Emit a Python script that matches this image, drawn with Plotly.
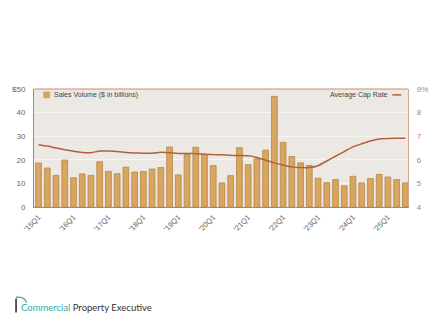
import plotly.graph_objects as go

quarters = [f"'{y}Q{q}" for y in range(15, 26) for q in range(1, 5)][:43]
sales_volume = [18.6, 16.5, 13.4, 19.9, 12.4, 14.0, 13.4, 19.2, 15.1, 14.1,
                16.9, 14.8, 15.0, 16.1, 16.7, 25.4, 13.6, 22.2, 25.3, 22.3,
                17.5, 10.2, 13.3, 25.1, 17.9, 20.4, 24.1, 46.9, 27.4, 21.4,
                18.7, 17.6, 12.2, 10.3, 11.6, 9.0, 13.0, 10.2, 12.0, 13.8,
                12.7, 11.6, 10.2]
cap_rate = [6.64, 6.58, 6.50, 6.43, 6.36, 6.31, 6.30, 6.37, 6.37, 6.35,
            6.31, 6.29, 6.28, 6.28, 6.32, 6.30, 6.27, 6.27, 6.26, 6.24,
            6.22, 6.21, 6.19, 6.18, 6.17, 6.10, 5.98, 5.87, 5.78, 5.70,
            5.67, 5.67, 5.75, 5.95, 6.15, 6.35, 6.55, 6.68, 6.80, 6.88,
            6.90, 6.91, 6.91]
tick_labels = ["'15Q1", "'16Q1", "'17Q1", "'18Q1", "'19Q1", "'20Q1",
               "'21Q1", "'22Q1", "'23Q1", "'24Q1", "'25Q1"]

x = list(range(len(sales_volume)))
tick_pos = [quarters.index(t) for t in tick_labels]

FONT = "Liberation Sans, Arial, Helvetica, sans-serif"
BAR = "#D8A663"
LINE = "#B0603C"

fig = go.Figure()
fig.add_trace(go.Bar(
    x=x, y=sales_volume, name="Sales Volume ($ in billions)",
    marker=dict(color=BAR, line=dict(color="#B98540", width=0.8)),
    width=0.66, yaxis="y", showlegend=False,
))
fig.add_trace(go.Scatter(
    x=x, y=cap_rate, name="Average Cap Rate", mode="lines",
    line=dict(color=LINE, width=1.5, shape="spline", smoothing=0.6),
    yaxis="y2", showlegend=False,
))

fig.update_layout(
    width=440, height=327,
    margin=dict(l=28, r=28, t=89, b=120),
    paper_bgcolor="white",
    plot_bgcolor="#ECE9E5",
    font=dict(family=FONT, size=8, color="#666666"),
    xaxis=dict(
        range=[-0.52, 42.3], tickvals=tick_pos, ticktext=tick_labels,
        tickangle=-45, tickfont=dict(size=7.5, color="#666666"),
        showgrid=False, showline=True, linecolor="#8A8F98", linewidth=1,
        ticks="", zeroline=False, ticklabelstandoff=2,
    ),
    yaxis=dict(
        range=[0, 50], tickvals=[0, 10, 20, 30, 40, 50],
        ticktext=["0", "10", "20", "30", "40", "$50"],
        showgrid=True, gridcolor="#F7F5F2", gridwidth=1,
        showline=True, linecolor="#8A8F98", linewidth=1,
        zeroline=False, ticks="", ticklabelstandoff=6,
        tickfont=dict(size=8, color="#666666"),
    ),
    yaxis2=dict(
        range=[4, 9], overlaying="y", side="right",
        tickvals=[4, 5, 6, 7, 8, 9],
        ticktext=["4", "5", "6", "7", "8", "9%"],
        showgrid=False, showline=True, linecolor="#D9A88A", linewidth=1.2,
        zeroline=False, ticks="", ticklabelstandoff=6,
        tickfont=dict(size=8, color="#C0805A"),
    ),
    shapes=[
        dict(type="line", xref="paper", yref="paper", x0=0, x1=1, y0=1, y1=1,
             line=dict(color="#D48A6A", width=1)),
        # legend keys
        dict(type="rect", xref="paper", yref="paper", x0=0.026, x1=0.042,
             y0=0.925, y1=0.975, fillcolor=BAR, line=dict(color="#C9954F", width=0.5)),
        dict(type="line", xref="paper", yref="paper", x0=0.958, x1=0.982,
             y0=0.95, y1=0.95, line=dict(color=LINE, width=1.5)),
        # logo mark
        dict(type="line", xref="paper", yref="paper", x0=-0.048, x1=-0.048,
             y0=-0.775, y1=-0.895, line=dict(color="#333333", width=1.6)),
        dict(type="path", xref="paper", yref="paper",
             path="M -0.048 -0.765 Q -0.025 -0.755 -0.02 -0.81",
             line=dict(color="#3AA5A8", width=1.4)),
    ],
    annotations=[
        dict(text="Sales Volume ($ in billions)", xref="paper", yref="paper",
             x=0.047, y=0.95, xanchor="left", yanchor="middle",
             showarrow=False, font=dict(size=7, color="#444444")),
        dict(text="Average Cap Rate", xref="paper", yref="paper",
             x=0.952, y=0.95, xanchor="right", yanchor="middle",
             showarrow=False, font=dict(size=7, color="#444444")),
        dict(text="<span style='color:#3AA5A8'>Commercial</span> Property Executive",
             xref="paper", yref="paper", x=-0.04, y=-0.85,
             xanchor="left", yanchor="middle", showarrow=False,
             font=dict(family="Lato, Noto Sans, sans-serif", size=9.5, color="#333333")),
    ],
)

fig.write_html("out.html")
